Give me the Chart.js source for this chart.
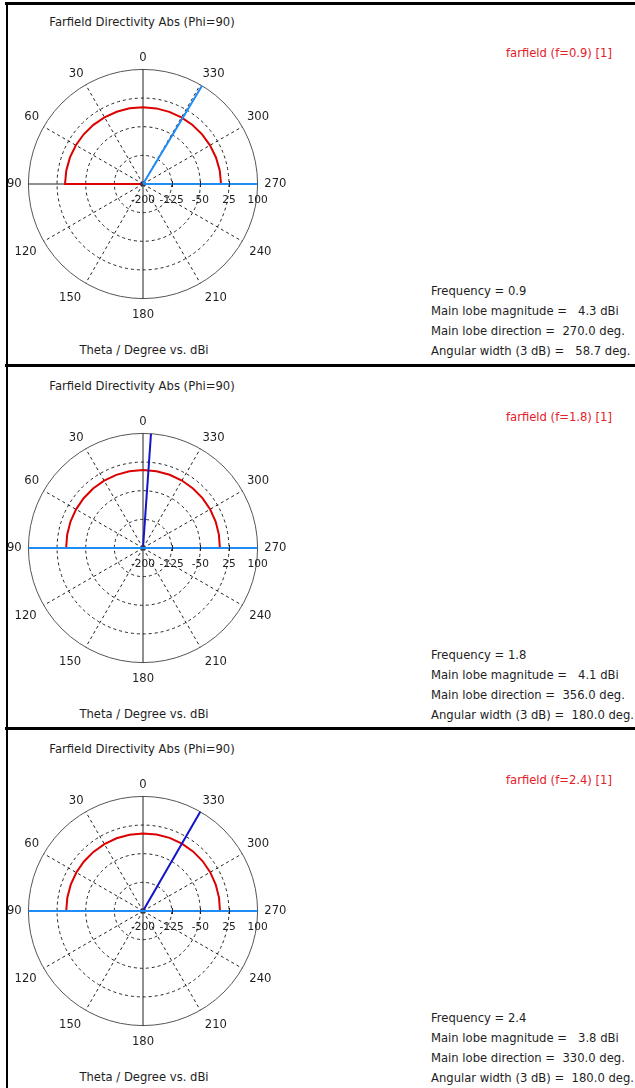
<!DOCTYPE html>
<html>
<head>
<meta charset="utf-8">
<title>Farfield Directivity Abs (Phi=90)</title>
<script src="https://cdn.jsdelivr.net/npm/chart.js@4.4.1/dist/chart.umd.min.js"></script>
<style>
  html, body { margin: 0; padding: 0; }
  body { width: 635px; height: 1088px; position: relative; overflow: hidden; background: #fff;
         font-family: "DejaVu Sans", sans-serif; font-size: 11.6px; color: #1e1e1e; }
  .sep { position: absolute; left: 5px; right: 0; height: 3px; background: #000; }
  .vbar { position: absolute; left: 6px; width: 2px; top: 3px; bottom: 0; background: #000; }
  canvas { position: absolute; }
  .t { position: absolute; white-space: pre; line-height: 14px; }
  .c { transform: translateX(-50%); }
  .leg { color: #e4202a; }
  .info { line-height: 20px; }
</style>
</head>
<body>
<div class="vbar"></div>
<div class="sep" style="top:2px"></div>
<div class="sep" style="top:364px"></div>
<div class="sep" style="top:727px"></div>
<script>
// one cut per frequency
const freqs = [0.9, 1.8, 2.4];
const mainLobeMag = [4.3, 4.1, 3.8];      // dBi
const mainLobeDir = [270.0, 356.0, 330.0]; // deg
const angularWidth = [58.7, 180.0, 180.0]; // deg (3 dB)
// the two 3 dB boundary rays drawn in light blue
const widthRays = [[270, 329], [270, 90], [270, 90]];

// directivity samples over the upper half (theta, dBi)
const upperTheta = [270, 280, 290, 300, 310, 320, 330, 340, 350, 0, 10, 20, 30, 40, 50, 60, 70, 80, 90];
const dirF09 = [4.3, 4.0, 3.3, 2.6, 2.0, 1.6, 1.3, 1.1, 1.0, 1.0, 1.1, 1.3, 1.6, 2.0, 2.5, 3.0, 3.5, 3.9, 4.2];
const dirF18 = [1.2, 1.8, 2.4, 2.9, 3.3, 3.6, 3.9, 4.0, 4.1, 4.1, 4.0, 3.8, 3.5, 3.2, 2.8, 2.4, 2.0, 1.6, 1.2];
const dirF24 = [1.5, 2.1, 2.6, 3.1, 3.5, 3.7, 3.8, 3.7, 3.5, 3.2, 2.9, 2.6, 2.3, 2.0, 1.8, 1.6, 1.4, 1.2, 1.0];
const patterns = [dirF09, dirF18, dirF24];
// lower half sits on the plot floor
const lowerTheta = [91, 180, 269];
const floorDbi = -200;

// radial axis
const rMin = -200, rMax = 100, rStep = 75;

// page placement of each polar centre
const centreY = [184, 548, 911];
const centreX = 143;

// theta runs counter-clockwise, radar runs clockwise -> reverse the category order
const thetaLabels = [];
for (let i = 0; i < 360; i++) thetaLabels.push((360 - i) % 360);
const idx = (t) => (360 - t) % 360;

function patternData(k) {
  const d = new Array(360).fill(null);
  upperTheta.forEach((t, j) => { d[idx(t)] = patterns[k][j]; });
  lowerTheta.forEach(t => { d[idx(t)] = floorDbi; });
  return d;
}
function rayData(thetas) {
  const d = new Array(360).fill(null);
  thetas.forEach(t => { d[idx(t)] = rMax; d[(idx(t) + 1) % 360] = rMin; });
  return d;
}

const FONT = 'DejaVu Sans';

// dB tick labels along the 270 axis, plus the small tick marks on it
const radialTicks = {
  id: 'radialTicks',
  afterDatasetsDraw(chart) {
    const s = chart.scales.r, ctx = chart.ctx;
    ctx.save();
    ctx.strokeStyle = '#222';
    ctx.lineWidth = 1;
    s.ticks.forEach((t, i) => {
      const x = Math.round(s.xCenter + s.getDistanceFromCenterForValue(t.value)) + 0.5;
      if (i > 0 && i < s.ticks.length - 1) {
        ctx.beginPath(); ctx.moveTo(x, s.yCenter - 3); ctx.lineTo(x, s.yCenter + 3); ctx.stroke();
      }
    });
    ctx.font = '10.6px "' + FONT + '"';
    ctx.fillStyle = '#1e1e1e';
    ctx.textAlign = 'center';
    ctx.textBaseline = 'middle';
    s.ticks.forEach(t => {
      const x = s.xCenter + s.getDistanceFromCenterForValue(t.value);
      ctx.fillText(t.label, x, s.yCenter + 16);
    });
    ctx.restore();
  }
};

function addText(cls, text, style) {
  const el = document.createElement('div');
  el.className = 't ' + cls;
  el.textContent = text;
  Object.assign(el.style, style);
  document.body.appendChild(el);
}

freqs.forEach((f, k) => {
  const cy = centreY[k];
  const cv = document.createElement('canvas');
  cv.id = 'farfield' + k;
  cv.width = 340; cv.height = 276;
  cv.style.left = (centreX - 170) + 'px';
  cv.style.top = (cy - 135) + 'px';
  document.body.appendChild(cv);

  addText('c', 'Farfield Directivity Abs (Phi=90)', { left: '142px', top: (cy - 169) + 'px' });
  addText('c', 'Theta / Degree vs. dBi', { left: '144px', top: (cy + 159) + 'px' });
  addText('leg', 'farfield (f=' + f + ') [1]', { right: '23px', top: (cy - 138) + 'px' });
  addText('info',
    'Frequency = ' + f + '\n' +
    'Main lobe magnitude = ' + mainLobeMag[k].toFixed(1).padStart(5) + ' dBi\n' +
    'Main lobe direction = ' + mainLobeDir[k].toFixed(1).padStart(6) + ' deg.\n' +
    'Angular width (3 dB) = ' + angularWidth[k].toFixed(1).padStart(6) + ' deg.',
    { left: '431px', top: (cy + 97) + 'px' });

  new Chart(cv, {
    type: 'radar',
    data: {
      labels: thetaLabels,
      datasets: [
        {
          data: rayData(widthRays[k]),
          borderColor: '#1e8cf5', borderWidth: 2, spanGaps: false, pointRadius: 0, fill: false
        },
        {
          data: rayData([Math.round(mainLobeDir[k])]),
          borderColor: '#1414c8', borderWidth: 2, spanGaps: false, fill: false,
          pointRadius: (c) => c.raw === rMin ? 3 : 0,
          pointStyle: 'star', pointBorderColor: '#334', pointBorderWidth: 1
        },
        {
          data: patternData(k),
          borderColor: '#dc0000', borderWidth: 2, spanGaps: true, pointRadius: 0, fill: false, tension: 0
        }
      ]
    },
    options: {
      responsive: false,
      animation: false,
      events: [],
      plugins: { legend: { display: false }, tooltip: { enabled: false } },
      scales: {
        r: {
          min: rMin, max: rMax,
          ticks: { stepSize: rStep, display: false },
          grid: {
            circular: true,
            color: (c) => c.tick && c.tick.value === rMax ? '#555' : '#222',
            lineWidth: 1
          },
          border: { dash: (c) => c.tick && c.tick.value === rMax ? [] : [3, 3] },
          angleLines: {
            color: '#222',
            lineWidth: (c) => thetaLabels[c.index] % 30 === 0 ? 1 : 0,
            borderDash: (c) => thetaLabels[c.index] % 90 === 0 ? [] : [3, 3]
          },
          pointLabels: {
            font: { family: FONT, size: 11.6 },
            color: '#1e1e1e',
            // labels sit a little lower than a symmetric ring would put them
            padding: (c) => 6.75 - 2.75 * Math.cos(thetaLabels[c.index] * Math.PI / 180),
            callback: (v) => v % 30 === 0 ? String(v) : ''
          }
        }
      }
    },
    plugins: [radialTicks]
  });
});
</script>
</body>
</html>
